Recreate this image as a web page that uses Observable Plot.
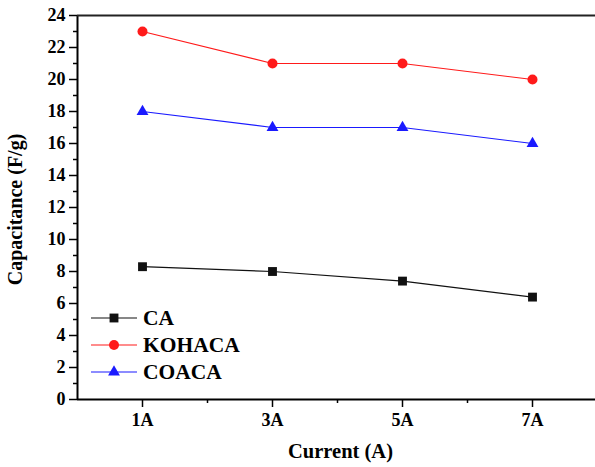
<!DOCTYPE html>
<html>
<head>
<meta charset="utf-8">
<script src="https://cdn.jsdelivr.net/npm/d3@7"></script>
<script src="https://cdn.jsdelivr.net/npm/@observablehq/plot@0.6"></script>
<style>
  html, body { margin: 0; padding: 0; background: #fff; }
  #chart { position: relative; width: 595px; height: 467px; }
  #chart svg { display: block; }
  #legend { position: absolute; left: 0; top: 0; pointer-events: none; }
</style>
</head>
<body>
<div id="chart"></div>
<script>
// Specific capacitance at each discharge current
const currents = ["1A", "3A", "5A", "7A"];
const seriesNames = ["CA", "KOHACA", "COACA"];
const caValues = [8.3, 8.0, 7.4, 6.4];
const kohacaValues = [23, 21, 21, 20];
const coacaValues = [18, 17, 17, 16];
const yTicks = [0, 2, 4, 6, 8, 10, 12, 14, 16, 18, 20, 22, 24];

const seriesValues = [caValues, kohacaValues, coacaValues];
const colors = {CA: "#111111", KOHACA: "#ff1a1a", COACA: "#1a1aff"};
const symbols = {CA: "square", KOHACA: "circle", COACA: "triangle"};
const sizes = {CA: 5, KOHACA: 5, COACA: 4.4};

// long table: one row per series and current
const rows = seriesNames.flatMap((name, i) =>
  currents.map((c, j) => ({series: name, current: parseInt(c), label: c, value: seriesValues[i][j]}))
);

const font = "'Liberation Serif', 'Times New Roman', serif";

const plot = Plot.plot({
  width: 595,
  height: 467,
  marginLeft: 77,
  marginRight: 0,
  marginTop: 15,
  marginBottom: 68,
  style: {fontFamily: font, fontWeight: "bold", background: "#fff", color: "#000"},
  x: {domain: [0, 8], range: [77, 597]},
  y: {domain: [0, 24], range: [399, 15]},
  marks: [
    // minor ticks
    Plot.axisY(d3.range(1, 24, 2), {tickSize: 4, tickFormat: () => "", strokeWidth: 1.5, label: null}),
    Plot.axisX([2, 4, 6], {tickSize: 4, tickFormat: () => "", strokeWidth: 1.5, label: null}),
    // major ticks with labels
    Plot.axisY(yTicks, {tickSize: 8, tickPadding: 4, fontSize: 18, fontWeight: "bold", strokeWidth: 1.5, label: null}),
    Plot.axisX(currents.map(c => parseInt(c)), {tickSize: 8, tickPadding: 6, fontSize: 18, fontWeight: "bold",
      tickFormat: d => d + "A", strokeWidth: 1.5, label: null}),
    // frame lines
    Plot.ruleX([0], {stroke: "#000", strokeWidth: 2}),
    Plot.ruleY([0], {stroke: "#000", strokeWidth: 2}),
    Plot.ruleY([24], {stroke: "#222", strokeWidth: 2}),
    // series lines and markers
    ...seriesNames.map(name => Plot.line(rows.filter(r => r.series === name),
      {x: "current", y: "value", stroke: colors[name], strokeWidth: 1.2})),
    ...seriesNames.map(name => Plot.dot(rows.filter(r => r.series === name),
      {x: "current", y: "value", fill: colors[name], symbol: symbols[name], r: sizes[name], stroke: "none"})),
    // axis titles
    Plot.text(["Capacitance (F/g)"], {frameAnchor: "left", textAnchor: "middle", lineAnchor: "middle",
      dx: -62, dy: 2, rotate: -90, fontSize: 20, fontWeight: "bold", fontFamily: font, fill: "#000"}),
    Plot.text(["Current (A)"], {frameAnchor: "bottom", dx: 4, dy: 58, fontSize: 20.5,
      fontWeight: "bold", fontFamily: font, fill: "#000"})
  ]
});

const chart = document.getElementById("chart");
chart.appendChild(plot);

// legend box inside the lower-left of the plot area
const legend = d3.select(chart).append("svg")
  .attr("id", "legend").attr("width", 595).attr("height", 467);
const rowY = d3.scalePoint().domain(seriesNames).range([318, 372]);
seriesNames.forEach(name => {
  const g = legend.append("g").attr("transform", `translate(0,${rowY(name)})`);
  g.append("line").attr("x1", 91).attr("x2", 137).attr("y1", 0).attr("y2", 0)
    .attr("stroke", colors[name]).attr("stroke-width", 1.2);
  g.append("path").attr("transform", "translate(114,0)")
    .attr("d", d3.symbol(symbols[name] === "square" ? d3.symbolSquare :
      symbols[name] === "circle" ? d3.symbolCircle : d3.symbolTriangle, Math.PI * sizes[name] ** 2)())
    .attr("fill", colors[name]);
  g.append("text").attr("x", 143).attr("y", 7)
    .attr("font-family", font).attr("font-weight", "bold").attr("font-size", 21.5)
    .attr("fill", "#000").text(name);
});
</script>
</body>
</html>
